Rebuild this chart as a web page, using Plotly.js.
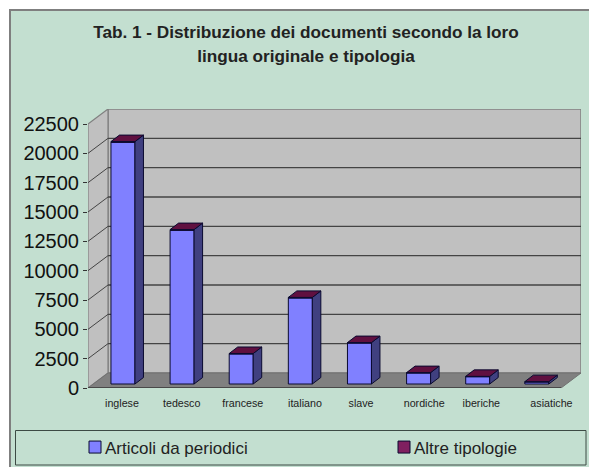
<!DOCTYPE html>
<html><head><meta charset="utf-8">
<script src="https://cdn.plot.ly/plotly-3.0.1.min.js"></script>
<style>html,body{margin:0;padding:0;background:#fff}#c{width:589px;height:467px}</style>
</head><body><div id="c"></div>
<script>
const categories = ['inglese','tedesco','francese','italiano','slave','nordiche','iberiche','asiatiche'];
const articoli = [20600,13100,2560,7330,3490,940,620,170];
const altre = [60,60,40,50,40,30,30,30];
const yTicks = [0,2500,5000,7500,10000,12500,15000,17500,20000,22500];
const labelNudgePx = [4.4,5,7,10,7,11,9,20];

const W=589,H=467,L=88,R=581,T=109,B=388;
const catPx=59.125, valPerPx=22500/264;
const ux=p=>p/catPx, uy=p=>p*valPerPx;
const x0=-0.5, xFrontR=7.5, xTop=xFrontR+ux(20), yTop=(B-T)*valPerPx;
const wallDx=ux(20), wallDy=uy(15);
const barShift=ux(5.4), barLift=uy(4), barW=ux(24), barDx=ux(8.5), barDy=uy(6.5);
const px=p=>(p-L)/(R-L), py=p=>(B-p)/(B-T);

function poly(pts){return 'M'+pts.map(p=>p[0]+','+p[1]).join('L')+'Z';}
function shp(pts,fill,color,width){return {type:'path',xref:'x',yref:'y',layer:'below',path:poly(pts),fillcolor:fill,line:{color:color,width:width}};}
function seg(a,b,color,width){return {type:'line',xref:'x',yref:'y',layer:'below',x0:a[0],y0:a[1],x1:b[0],y1:b[1],line:{color:color,width:width}};}

const shapes=[
 {type:'rect',xref:'paper',yref:'paper',layer:'below',x0:px(10),x1:px(595),y0:py(10),y1:py(475),fillcolor:'#C3DFD0',line:{color:'#7F7F7F',width:2}},
 {type:'rect',xref:'paper',yref:'paper',layer:'below',x0:px(15.5),x1:px(586),y0:py(430.5),y1:py(465),fillcolor:'rgba(0,0,0,0)',line:{color:'#3C4A44',width:1}},
 shp([[x0+wallDx,wallDy],[xTop,wallDy],[xTop,yTop],[x0+wallDx,yTop]],'#C0C0C0','#808080',1.5),
 shp([[x0,0],[x0+wallDx,wallDy],[x0+wallDx,yTop],[x0,22500]],'#C0C0C0','#808080',1.2),
 shp([[x0,0],[xFrontR,0],[xTop,wallDy],[x0+wallDx,wallDy]],'#808080','#707070',1)
];
yTicks.filter(v=>v>0&&v<22500).forEach(v=>{
 shapes.push(seg([x0,v],[x0+wallDx,v+wallDy],'#444444',1));
 shapes.push(seg([x0+wallDx,v+wallDy],[xTop,v+wallDy],'#444444',1.3));
});
shapes.push(seg([x0,0],[xFrontR,0],'#3A3A3A',1.3));

const xs=categories.map((c,i)=>i+barShift);
const sideX=[],sideY=[],topX=[],topY=[];
categories.forEach((c,i)=>{
 const l=xs[i]-barW/2,r=xs[i]+barW/2,t=barLift+articoli[i]+altre[i];
 sideX.push(r,r+barDx,r+barDx,r,r,null);
 sideY.push(barLift,barLift+barDy,t+barDy,t,barLift,null);
 topX.push(l,r,r+barDx,l+barDx,l,null);
 topY.push(t,t,t+barDy,t+barDy,t,null);
});
const edge='#0A0A30';
const traces=[
 {type:'bar',name:'Articoli da periodici',legendwidth:264,x:xs,y:articoli,base:articoli.map(()=>barLift),width:barW,marker:{color:'#8080FF',line:{color:edge,width:1}},hoverinfo:'skip'},
 {type:'bar',name:'Altre tipologie',legendwidth:125,x:xs,y:altre,base:articoli.map(v=>v+barLift),width:barW,marker:{color:'#802060',line:{color:edge,width:1}},hoverinfo:'skip'},
 {type:'scatter',mode:'lines',x:sideX,y:sideY,fill:'toself',fillcolor:'#404080',line:{color:edge,width:1},showlegend:false,hoverinfo:'skip'},
 {type:'scatter',mode:'lines',x:topX,y:topY,fill:'toself',fillcolor:'#601040',line:{color:edge,width:1},showlegend:false,hoverinfo:'skip'}
];
const layout={
 width:W,height:H,paper_bgcolor:'#FFFFFF',plot_bgcolor:'rgba(0,0,0,0)',
 margin:{l:L,r:W-R,t:T,b:H-B,pad:0,autoexpand:false},
 barmode:'overlay',
 font:{family:'"Liberation Sans",Arial,sans-serif',color:'#111'},
 title:{text:'<b><span style="font-size:17.2px">Tab. 1 - Distribuzione dei documenti secondo la loro<br>lingua originale e tipologia</span></b>',
   font:{size:18.4,color:'#222'},xref:'paper',x:px(306),xanchor:'center',yref:'container',y:1-38/H,yanchor:'top'},
 xaxis:{range:[x0,xTop],tickmode:'array',tickvals:categories.map((c,i)=>i+ux(labelNudgePx[i])),ticktext:categories,
   tickfont:{size:10.7,color:'#222'},ticks:'outside',ticklen:5,tickcolor:'rgba(0,0,0,0)',showgrid:false,zeroline:false,showline:false,tickangle:0},
 yaxis:{range:[0,yTop],tickmode:'array',tickvals:yTicks,ticktext:yTicks.map(String),tickfont:{size:20,color:'#111'},
   ticks:'outside',ticklen:4,tickcolor:'#333',showgrid:false,zeroline:false,showline:false},
 legend:{orientation:'h',x:px(65),xanchor:'left',y:py(447.5),yanchor:'middle',bgcolor:'rgba(0,0,0,0)',borderwidth:0,
   font:{size:17,color:'#222'},traceorder:'normal'},
 shapes:shapes,showlegend:true
};
Plotly.newPlot('c',traces,layout,{displayModeBar:false,staticPlot:true}).then(()=>{
 document.querySelectorAll('#c .legend .traces .layers').forEach(g=>g.setAttribute('transform','translate(10,0)'));
});
</script></body></html>
